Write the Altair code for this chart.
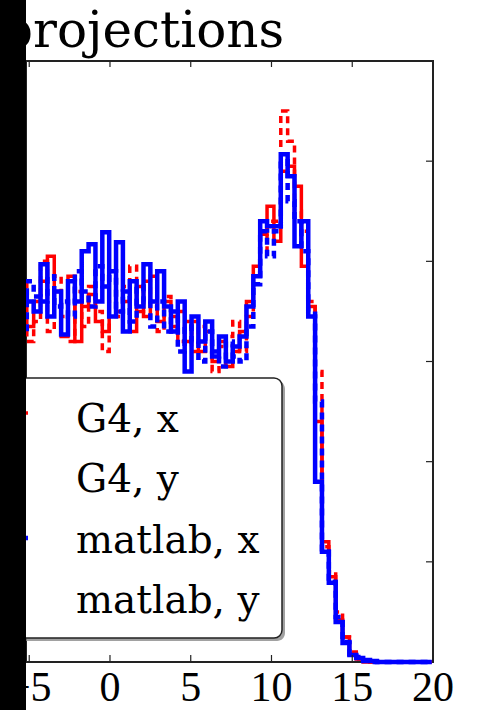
import altair as alt
import pandas as pd

title_text = "projections"
series_names = ["G4, x", "G4, y", "matlab, x", "matlab, y"]
series_colors = ["#ff0000", "#ff0000", "#0000ff", "#0000ff"]
bin_start = -6.0
bin_width = 0.425
x_ticks = [-5, 0, 5, 10, 15, 20]
x_tick_labels = ["\u22125", "0", "5", "10", "15", "20"]
y_ticks = [1, 2, 3, 4, 5]

g4_x = [3.5, 3.35, 3.35, 3.6, 3.8, 4.05, 3.7, 3.25, 3.85, 3.2,
        3.55, 3.67, 3.4, 3.3, 3.9, 3.5, 3.6, 3.3, 3.75, 3.45,
        3.85, 3.4, 3.6, 3.35, 3.5, 3.2, 3.4, 3.1, 3.3, 3.0,
        3.2, 2.95, 3.1, 3.3, 3.6, 3.95, 4.27, 4.55, 4.2, 4.9,
        4.95, 4.75, 3.95, 3.55, 2.4, 1.2, 0.85, 0.42, 0.25, 0.08,
        0.03, 0, 0, 0, 0, 0, 0, 0, 0, 0, 0]
g4_y = [3.7, 3.8, 3.2, 3.4, 4.0, 3.3, 3.85, 3.45, 3.2, 3.7,
        3.35, 3.75, 3.5, 3.1, 3.6, 3.45, 3.75, 3.95, 3.5, 3.8,
        3.55, 3.3, 3.65, 3.45, 3.2, 3.4, 3.1, 3.35, 3.2, 2.9,
        3.15, 3.25, 3.4, 3.1, 3.45, 3.85, 4.1, 4.4, 4.4, 5.5,
        5.2, 4.5, 4.3, 3.6, 2.9, 1.15, 0.9, 0.5, 0.25, 0.1,
        0.03, 0.01, 0, 0, 0, 0, 0, 0, 0, 0, 0]
matlab_x = [3.6, 3.7, 3.6, 3.5, 3.97, 3.45, 3.7, 3.27, 3.8, 3.6,
            4.1, 4.17, 3.6, 4.29, 3.45, 4.19, 3.3, 3.8, 3.55, 3.97,
            3.6, 3.9, 3.55, 3.3, 3.6, 2.9, 3.45, 3.2, 3.4, 3.05,
            3.25, 3.0, 3.15, 3.25, 3.55, 3.85, 4.4, 4.35, 4.35, 5.07,
            4.85, 4.15, 4.4, 3.45, 1.8, 1.1, 0.79, 0.4, 0.19, 0.07,
            0.04, 0.02, 0.01, 0, 0, 0, 0, 0, 0, 0, 0]
matlab_y = [3.4, 3.3, 3.8, 3.65, 3.6, 3.85, 3.55, 3.6, 3.45, 3.9,
            3.7, 3.55, 3.95, 3.75, 3.9, 3.5, 3.7, 3.4, 3.75, 3.6,
            3.35, 3.6, 3.3, 3.5, 3.1, 3.35, 3.2, 3.0, 3.3, 3.1,
            2.95, 3.2, 3.05, 3.0, 3.35, 3.77, 4.3, 4.05, 4.3, 5.0,
            4.6, 4.4, 4.1, 3.5, 2.6, 1.1, 0.8, 0.45, 0.2, 0.08,
            0.05, 0.01, 0, 0, 0, 0, 0, 0, 0, 0, 0]

all_series = [g4_x, g4_y, matlab_x, matlab_y]

rows = []
for name, vals in zip(series_names, all_series):
    for k, v in enumerate(vals):
        rows.append({"series": name, "x": bin_start + bin_width * k, "v": v})
    rows.append({"series": name, "x": bin_start + bin_width * len(vals), "v": vals[-1]})
df = pd.DataFrame(rows)

W, H = 407, 601
xscale = alt.Scale(domain=[-5.2, 20], nice=False, zero=False)
yscale = alt.Scale(domain=[0, 6], nice=False, zero=False)
X = lambda f: alt.X(f, scale=xscale, axis=None)
Y = lambda f: alt.Y(f, scale=yscale, axis=None)

one = pd.DataFrame({"a": [0]})
layers = []
# white margins around the plot (page background is black, showing as the left strip)
layers.append(alt.Chart(one).mark_rect(color="white")
              .encode(x=alt.value(0), x2=alt.value(W + 47), y=alt.value(-61), y2=alt.value(-1)))
layers.append(alt.Chart(one).mark_rect(color="white")
              .encode(x=alt.value(W + 1), x2=alt.value(W + 47), y=alt.value(-61), y2=alt.value(H + 48)))
layers.append(alt.Chart(one).mark_rect(color="white")
              .encode(x=alt.value(0), x2=alt.value(W + 47), y=alt.value(H + 1), y2=alt.value(H + 48)))

styles = [dict(strokeWidth=3.5), dict(strokeWidth=3.5, strokeDash=[7, 5]),
          dict(strokeWidth=4.5), dict(strokeWidth=4.5, strokeDash=[7, 5])]
for name, col, st in zip(series_names, series_colors, styles):
    layers.append(
        alt.Chart(df).transform_filter(alt.datum.series == name)
        .mark_line(interpolate="step-after", color=col, **st)
        .encode(x=X("x:Q"), y=Y("v:Q"))
    )

xt = pd.DataFrame({"t": x_ticks, "label": x_tick_labels})
yt = pd.DataFrame({"t": y_ticks})
layers.append(alt.Chart(xt).mark_rule(color="#222", strokeWidth=1.2)
              .encode(x=X("t:Q"), y=alt.value(H), y2=alt.value(H - 7)))
layers.append(alt.Chart(xt).mark_rule(color="#222", strokeWidth=1.2)
              .encode(x=X("t:Q"), y=alt.value(0), y2=alt.value(6)))
layers.append(alt.Chart(yt).mark_rule(color="#222", strokeWidth=1.2)
              .encode(y=Y("t:Q"), x=alt.value(W), x2=alt.value(W - 7)))
# x tick labels
layers.append(alt.Chart(xt).mark_text(font="Liberation Serif", fontSize=42, color="black",
                                      align="center", baseline="alphabetic")
              .encode(x=X("t:Q"), y=alt.value(H + 39), text="label:N"))

# legend shadow and box
layers.append(alt.Chart(one).mark_rect(fill="#8a8a8a", cornerRadius=8, opacity=0.8)
              .encode(x=alt.value(-30), x2=alt.value(259), y=alt.value(320), y2=alt.value(580)))
layers.append(alt.Chart(one).mark_rect(fill="white", stroke="#222", strokeWidth=1.5, cornerRadius=8)
              .encode(x=alt.value(-30), x2=alt.value(256), y=alt.value(317), y2=alt.value(577)))

legend_y = [371, 431, 492, 552]
handle_y = [352, 412, 477, 537]
for i, name in enumerate(series_names):
    st = styles[i]
    layers.append(alt.Chart(pd.DataFrame({"name": [name]}))
                  .mark_rule(color=series_colors[i], **st)
                  .encode(x=alt.value(-60), x2=alt.value(2 if i % 2 == 0 else -3),
                          y=alt.value(handle_y[i])))
    layers.append(alt.Chart(pd.DataFrame({"name": [name]}))
                  .mark_text(align="left", baseline="alphabetic", font="DejaVu Serif",
                             fontSize=39, color="black")
                  .encode(text="name:N", x=alt.value(50), y=alt.value(legend_y[i])))

layers.append(alt.Chart(pd.DataFrame({"t": [title_text]}))
              .mark_text(align="left", baseline="alphabetic", font="DejaVu Serif",
                         fontSize=50, color="black")
              .encode(text="t:N", x=alt.value(-25), y=alt.value(-14)))

layers.append(alt.Chart(one).mark_rect(color="black")
              .encode(x=alt.value(-26), x2=alt.value(0), y=alt.value(-61), y2=alt.value(H + 48)))

chart = alt.layer(*layers).properties(
    width=W, height=H, autosize="none",
    padding={"left": 26, "top": 61, "right": 47, "bottom": 48},
    background="black",
).configure_view(stroke="#222", strokeWidth=2, fill="white")

chart.save("out.html", embed_options={"renderer": "svg", "actions": False})
